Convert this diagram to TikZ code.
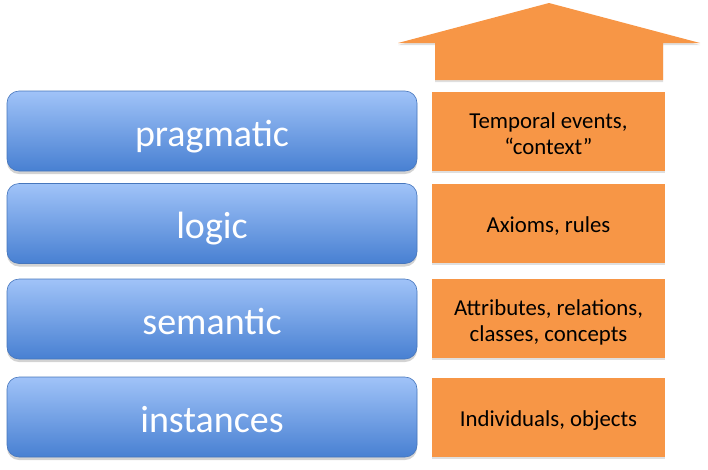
\documentclass[tikz,border=0pt]{standalone}
\usepackage{fontspec}
\setmainfont{Carlito}
\usetikzlibrary{shadows}

\definecolor{layerTop}{HTML}{A0C3F8}
\definecolor{layerBottom}{HTML}{4880D2}
\definecolor{layerEdge}{HTML}{4676BC}
\definecolor{noteFill}{HTML}{F79646}

\begin{document}
\begin{tikzpicture}[x=1pt,y=-1pt,
  layer/.style={draw=layerEdge, line width=0.6pt, rounded corners=12pt,
    top color=layerTop, bottom color=layerBottom,
    minimum width=410pt, minimum height=80pt, inner sep=0pt,
    text height=55pt, text depth=25pt,
    text=white, font=\fontsize{38}{44}\selectfont,
    drop shadow={shadow xshift=0pt, shadow yshift=-3pt, opacity=0.35}},
  note/.style={fill=noteFill, minimum width=233pt, minimum height=79pt,
    inner sep=0pt, align=center, text=black,
    font=\fontsize{22.8}{26}\selectfont,
    drop shadow={shadow xshift=0pt, shadow yshift=-2pt, opacity=0.25}},
  oneline/.style={text height=48pt, text depth=31pt},
  twolines/.style={text height=62pt, text depth=17pt}]

  \useasboundingbox (0,0) rectangle (708,469);

  % upward arrow above the descriptions
  \fill[noteFill, drop shadow={shadow xshift=0pt, shadow yshift=-2pt, opacity=0.25}]
    (435,80) -- (435,43) -- (398,43) -- (549,3) -- (700,43)
    -- (663,43) -- (663,80) -- cycle;

  % layers
  \node[layer] (pragmatic) at (212,131)   {pragmatic};
  \node[layer] (logic)     at (212,223.5) {logic};
  \node[layer] (semantic)  at (212,319)   {semantic};
  \node[layer] (instances) at (212,417)   {instances};

  % descriptions
  \node[note, twolines] (pragmaticNote) at (548.5,131.5) {Temporal events,\\“context”};
  \node[note, oneline]  (logicNote)     at (548.5,223.5) {Axioms, rules};
  \node[note, twolines] (semanticNote)  at (548.5,318.5) {Attributes, relations,\\classes, concepts};
  \node[note, oneline]  (instancesNote) at (548.5,417.5) {Individuals, objects};
\end{tikzpicture}
\end{document}
